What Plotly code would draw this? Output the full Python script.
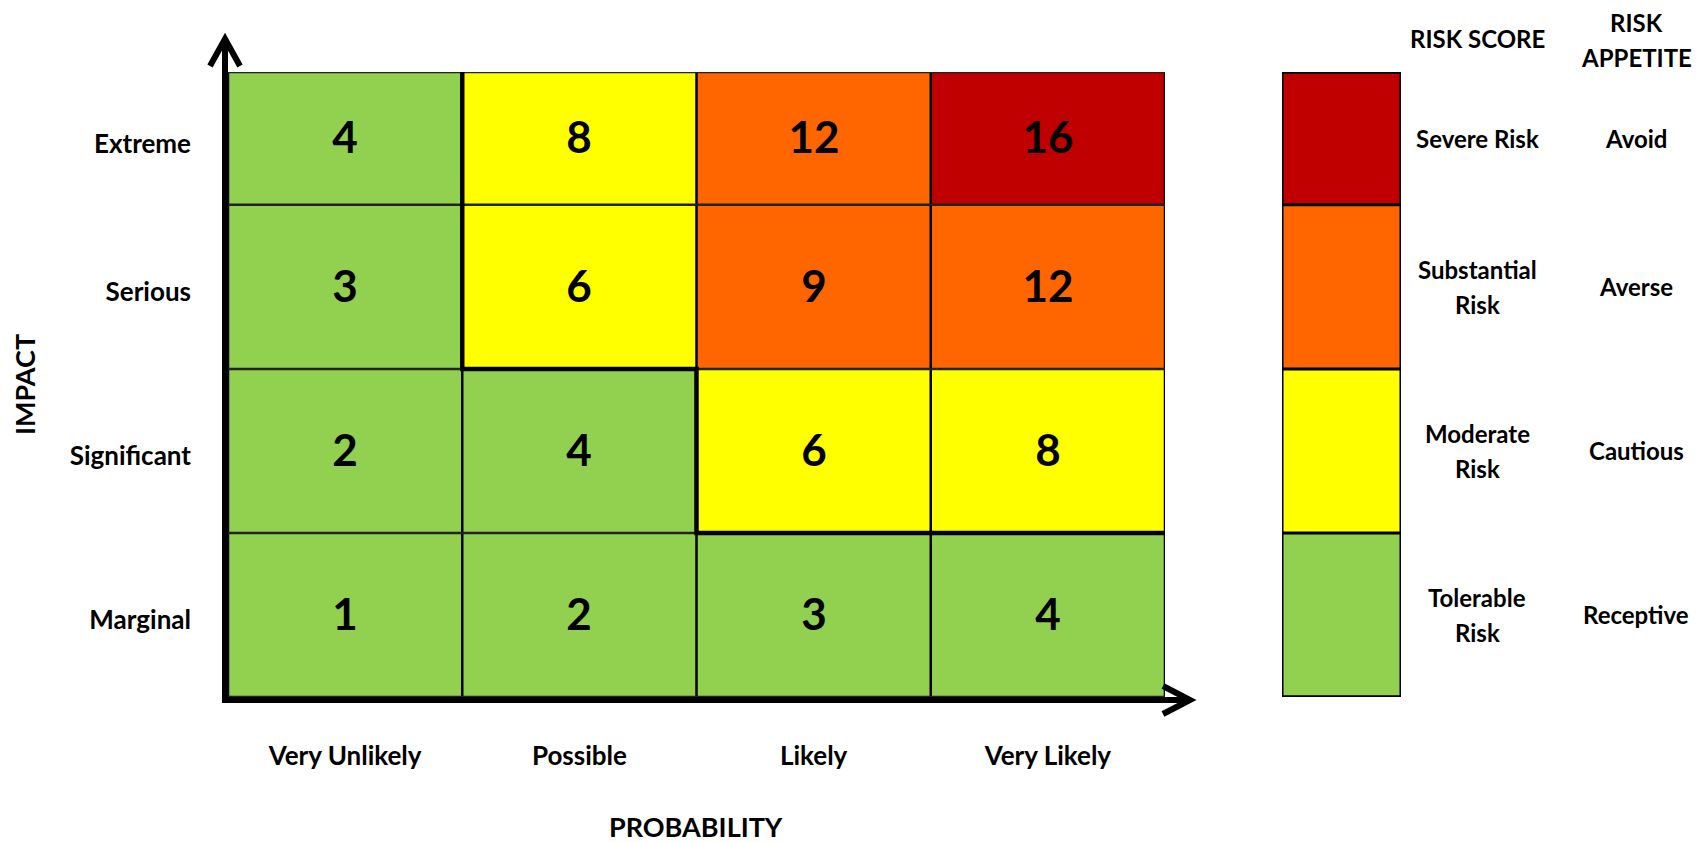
import plotly.graph_objects as go

W, H = 1702, 843

# ---- data ----
probability = ["Very Unlikely", "Possible", "Likely", "Very Likely"]
impact = ["Marginal", "Significant", "Serious", "Extreme"]  # bottom -> top
scores = [
    [1, 2, 3, 4],
    [2, 4, 6, 8],
    [3, 6, 9, 12],
    [4, 8, 12, 16],
]
# 0 = Tolerable, 1 = Moderate, 2 = Substantial, 3 = Severe
levels = [
    [0, 0, 0, 0],
    [0, 0, 1, 1],
    [0, 1, 2, 2],
    [0, 1, 2, 3],
]
risk_score_labels = ["Tolerable<br>Risk", "Moderate<br>Risk", "Substantial<br>Risk", "Severe Risk"]
risk_appetite_labels = ["Receptive", "Cautious", "Averse", "Avoid"]
level_colors = ["#92D050", "#FFFF00", "#FF6600", "#C00000"]

# ---- layout constants ----
x_edges = [0, 1, 2, 3, 4]
y_edges = [0, 1, 2, 3, 3.81]
x_centers = [(a + b) / 2 for a, b in zip(x_edges[:-1], x_edges[1:])]
y_centers = [(a + b) / 2 for a, b in zip(y_edges[:-1], y_edges[1:])]
FONT = "Lato"
LINE_GAP = 35  # px between two lines of a legend label


def px(x):
    return x / W


def py(y):
    return 1 - y / H


cs = []
n = len(level_colors)
for i, c in enumerate(level_colors):
    cs.append([i / n, c])
    cs.append([(i + 1) / n, c])

fig = go.Figure()
fig.add_trace(go.Heatmap(
    x=x_edges, y=y_edges, z=levels, text=scores,
    texttemplate="<b>%{text}</b>",
    textfont=dict(family=FONT, size=44, color="black"),
    colorscale=cs, zmin=-0.5, zmax=n - 0.5, showscale=False, hoverinfo="skip",
    xaxis="x", yaxis="y",
))
fig.add_trace(go.Heatmap(
    x=[0, 1], y=y_edges, z=[[i] for i in range(n)],
    colorscale=cs, zmin=-0.5, zmax=n - 0.5, showscale=False, hoverinfo="skip",
    xaxis="x2", yaxis="y2",
))

shapes = []
# grid lines
for xe in x_edges:
    shapes.append(dict(type="line", xref="x", yref="y", x0=xe, x1=xe, y0=y_edges[0], y1=y_edges[-1],
                       line=dict(color="black", width=2.5)))
for ye in y_edges:
    shapes.append(dict(type="line", xref="x", yref="y", x0=x_edges[0], x1=x_edges[-1], y0=ye, y1=ye,
                       line=dict(color="#222", width=2.5)))
# appetite staircase (thick)
stair = [(1, 3.81), (1, 2), (2, 2), (2, 1), (4, 1)]
path = "M " + " L ".join(f"{a},{b}" for a, b in stair)
shapes.append(dict(type="path", xref="x", yref="y", path=path, line=dict(color="black", width=4.5)))
# legend bar lines
for ye in y_edges:
    shapes.append(dict(type="line", xref="x2", yref="y2", x0=0, x1=1, y0=ye, y1=ye,
                       line=dict(color="black", width=3)))
shapes.append(dict(type="rect", xref="x2", yref="y2", x0=0, x1=1, y0=y_edges[0], y1=y_edges[-1],
                   line=dict(color="black", width=3)))


def ppath(pts):
    return "M " + " L ".join(f"{px(a):.5f},{py(b):.5f}" for a, b in pts)


# axis arrows
shapes.append(dict(type="path", xref="paper", yref="paper", path=ppath([(225, 700), (225, 40)]),
                   line=dict(color="black", width=6)))
shapes.append(dict(type="path", xref="paper", yref="paper", path=ppath([(210, 66), (225, 39), (240, 66)]),
                   line=dict(color="black", width=6)))
shapes.append(dict(type="path", xref="paper", yref="paper", path=ppath([(222, 700), (1188, 700)]),
                   line=dict(color="black", width=6)))
shapes.append(dict(type="path", xref="paper", yref="paper", path=ppath([(1163, 686), (1190, 700), (1163, 714)]),
                   line=dict(color="black", width=6)))

annotations = []
lab_font = dict(family=FONT, size=24, color="black", weight="bold")


def add_lines(text, x, y, xref, yref, font):
    parts = text.split("<br>")
    k = len(parts)
    for j, p in enumerate(parts):
        shift = ((k - 1) / 2 - j) * LINE_GAP
        annotations.append(dict(xref=xref, yref=yref, x=x, y=y, text=p, showarrow=False,
                                xanchor="center", yanchor="middle", yshift=shift, font=font))


for yc, s, a in zip(y_centers, risk_score_labels, risk_appetite_labels):
    add_lines(s, px(1477), yc, "paper", "y2", lab_font)
    add_lines(a, px(1636), yc, "paper", "y2", lab_font)
add_lines("RISK SCORE", px(1477), py(39), "paper", "paper", lab_font)
add_lines("RISK<br>APPETITE", px(1636), py(40), "paper", "paper", lab_font)
title_font = dict(family=FONT, size=27, color="black", weight="bold")
annotations.append(dict(xref="paper", yref="paper", x=px(696), y=py(826), text="PROBABILITY",
                        showarrow=False, xanchor="center", yanchor="middle", font=title_font))
annotations.append(dict(xref="paper", yref="paper", x=px(24), y=py(385), text="IMPACT", textangle=-90,
                        showarrow=False, xanchor="center", yanchor="middle", font=title_font))

tick_font = dict(family=FONT, size=26, color="black", weight="bold")
fig.update_layout(
    width=W, height=H, autosize=False,
    margin=dict(l=0, r=0, t=0, b=0),
    paper_bgcolor="white", plot_bgcolor="white",
    showlegend=False,
    shapes=shapes, annotations=annotations,
    xaxis=dict(domain=[px(228), px(1165)], range=[x_edges[0], x_edges[-1]], tickvals=x_centers,
               ticktext=probability, showgrid=False, zeroline=False, showline=False, ticks="",
               tickfont=tick_font, ticklabelstandoff=41, fixedrange=True),
    yaxis=dict(domain=[py(697), py(72)], range=[y_edges[0], y_edges[-1]], tickvals=y_centers,
               ticktext=impact, showgrid=False, zeroline=False, showline=False, ticks="",
               tickfont=tick_font, ticklabelstandoff=36, ticklabelshift=5, fixedrange=True),
    xaxis2=dict(domain=[px(1282), px(1401)], range=[0, 1], showticklabels=False, showgrid=False,
                zeroline=False, showline=False, ticks="", anchor="y2", fixedrange=True),
    yaxis2=dict(domain=[py(697), py(72)], range=[y_edges[0], y_edges[-1]], showticklabels=False,
                showgrid=False, zeroline=False, showline=False, ticks="", anchor="x2", fixedrange=True),
)

fig.write_html("out.html", config={"displayModeBar": False})
